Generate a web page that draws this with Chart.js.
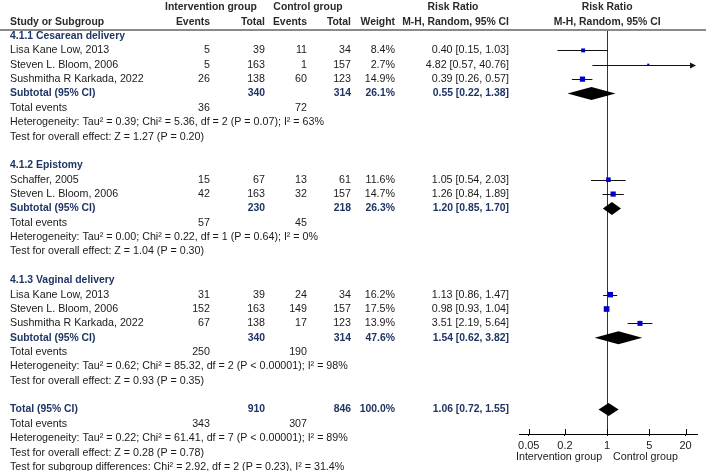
<!DOCTYPE html>
<html>
<head>
<meta charset="utf-8">
<script src="https://cdn.jsdelivr.net/npm/chart.js@4.4.1/dist/chart.umd.min.js"></script>
<style>
  html, body { margin: 0; padding: 0; background: #fff; }
  #wrap { width: 706px; height: 471px; position: relative; }
</style>
</head>
<body>
<div id="wrap"><canvas id="forestChart"></canvas></div>
<script>
// ===== data =====
const subgroupNames = ['4.1.1 Cesarean delivery', '4.1.2 Epistomy', '4.1.3 Vaginal delivery'];

const studyNames = ['Lisa Kane Low, 2013', 'Steven L. Bloom, 2006', 'Sushmitha R Karkada, 2022',
  'Schaffer, 2005', 'Steven L. Bloom, 2006',
  'Lisa Kane Low, 2013', 'Steven L. Bloom, 2006', 'Sushmitha R Karkada, 2022'];
const studyGroup = [0, 0, 0, 1, 1, 2, 2, 2];
const intEvents = [5, 5, 26, 15, 42, 31, 152, 67];
const intTotal = [39, 163, 138, 67, 163, 39, 163, 138];
const ctlEvents = [11, 1, 60, 13, 32, 24, 149, 17];
const ctlTotal = [34, 157, 123, 61, 157, 34, 157, 123];
const weights = [8.4, 2.7, 14.9, 11.6, 14.7, 16.2, 17.5, 13.9];
const rr = [0.40, 4.82, 0.39, 1.05, 1.26, 1.13, 0.98, 3.51];
const rrLow = [0.15, 0.57, 0.26, 0.54, 0.84, 0.86, 0.93, 2.19];
const rrHigh = [1.03, 40.76, 0.57, 2.03, 1.89, 1.47, 1.04, 5.64];

const subIntEvents = [36, 57, 250];
const subIntTotal = [340, 230, 340];
const subCtlEvents = [72, 45, 190];
const subCtlTotal = [314, 218, 314];
const subWeight = [26.1, 26.3, 47.6];
const subRR = [0.55, 1.20, 1.54];
const subLow = [0.22, 0.85, 0.62];
const subHigh = [1.38, 1.70, 3.82];
const subHet = [
  'Heterogeneity: Tau\u00b2 = 0.39; Chi\u00b2 = 5.36, df = 2 (P = 0.07); I\u00b2 = 63%',
  'Heterogeneity: Tau\u00b2 = 0.00; Chi\u00b2 = 0.22, df = 1 (P = 0.64); I\u00b2 = 0%',
  'Heterogeneity: Tau\u00b2 = 0.62; Chi\u00b2 = 85.32, df = 2 (P < 0.00001); I\u00b2 = 98%'
];
const subTest = [
  'Test for overall effect: Z = 1.27 (P = 0.20)',
  'Test for overall effect: Z = 1.04 (P = 0.30)',
  'Test for overall effect: Z = 0.93 (P = 0.35)'
];

const totalIntEvents = 343, totalIntTotal = 910;
const totalCtlEvents = 307, totalCtlTotal = 846;
const totalWeight = 100.0;
const totalRR = [1.06, 0.72, 1.55];
const totalNotes = [
  'Heterogeneity: Tau\u00b2 = 0.22; Chi\u00b2 = 61.41, df = 7 (P < 0.00001); I\u00b2 = 89%',
  'Test for overall effect: Z = 0.28 (P = 0.78)',
  'Test for subgroup differences: Chi\u00b2 = 2.92, df = 2 (P = 0.23), I\u00b2 = 31.4%'
];

const axisTicks = [0.05, 0.2, 1, 5, 20];

// ===== row layout =====
const rows = [];
const studyRow = [];
const subRow = [];
let r = 0;
subgroupNames.forEach((name, g) => {
  rows.push({ kind: 'section', text: name, row: r++ });
  studyGroup.forEach((sg, i) => {
    if (sg === g) { studyRow[i] = r; rows.push({ kind: 'study', idx: i, row: r++ }); }
  });
  subRow[g] = r; rows.push({ kind: 'subtotal', idx: g, row: r++ });
  rows.push({ kind: 'events', a: subIntEvents[g], b: subCtlEvents[g], row: r++ });
  rows.push({ kind: 'note', text: subHet[g], row: r++ });
  rows.push({ kind: 'note', text: subTest[g], row: r++ });
  r++;
});
const totalRow = r;
rows.push({ kind: 'total', row: r++ });
rows.push({ kind: 'events', a: totalIntEvents, b: totalCtlEvents, row: r++ });
totalNotes.forEach(t => rows.push({ kind: 'note', text: t, row: r++ }));

// columns (right edges unless noted)
const COL = { name: 10, ie: 210, it: 265, ce: 307, ct: 351, w: 395, rr: 509 };
const FONT = '10.7px "Liberation Sans", Arial, sans-serif';
const BOLD = 'bold 10.4px "Liberation Sans", Arial, sans-serif';
const NAVY = '#1f3563';
const INK = '#1a1a1a';
const HEAD = '#2a2a2a';

const fmt2 = v => v.toFixed(2);
const ciText = (m, l, h) => `${fmt2(m)} [${fmt2(l)}, ${fmt2(h)}]`;

function txt(ctx, s, x, y, align, font, color) {
  ctx.font = font;
  ctx.fillStyle = color;
  ctx.textAlign = align;
  ctx.textBaseline = 'middle';
  ctx.fillText(s, x, y);
}

// table text + header
const tablePlugin = {
  id: 'table',
  afterDraw(chart) {
    const ctx = chart.ctx;
    const ys = chart.scales.y;
    const xs = chart.scales.x;
    const x1 = xs.getPixelForValue(1);
    ctx.save();
    // header
    txt(ctx, 'Intervention group', 211, 7, 'center', BOLD, HEAD);
    txt(ctx, 'Control group', 308, 7, 'center', BOLD, HEAD);
    txt(ctx, 'Risk Ratio', 453, 7, 'center', BOLD, HEAD);
    txt(ctx, 'Risk Ratio', x1, 7, 'center', BOLD, HEAD);
    txt(ctx, 'Study or Subgroup', COL.name, 22, 'left', BOLD, HEAD);
    txt(ctx, 'Events', COL.ie, 22, 'right', BOLD, HEAD);
    txt(ctx, 'Total', COL.it, 22, 'right', BOLD, HEAD);
    txt(ctx, 'Events', COL.ce, 22, 'right', BOLD, HEAD);
    txt(ctx, 'Total', COL.ct, 22, 'right', BOLD, HEAD);
    txt(ctx, 'Weight', COL.w, 22, 'right', BOLD, HEAD);
    txt(ctx, 'M-H, Random, 95% CI', COL.rr, 22, 'right', BOLD, HEAD);
    txt(ctx, 'M-H, Random, 95% CI', x1, 22, 'center', BOLD, HEAD);
    ctx.fillStyle = '#8a8a8a';
    ctx.fillRect(0, 29, chart.width, 2);

    rows.forEach(row => {
      const y = ys.getPixelForValue(row.row);
      if (row.kind === 'section') {
        txt(ctx, row.text, COL.name, y, 'left', BOLD, NAVY);
      } else if (row.kind === 'study') {
        const i = row.idx;
        txt(ctx, studyNames[i], COL.name, y, 'left', FONT, INK);
        txt(ctx, String(intEvents[i]), COL.ie, y, 'right', FONT, INK);
        txt(ctx, String(intTotal[i]), COL.it, y, 'right', FONT, INK);
        txt(ctx, String(ctlEvents[i]), COL.ce, y, 'right', FONT, INK);
        txt(ctx, String(ctlTotal[i]), COL.ct, y, 'right', FONT, INK);
        txt(ctx, weights[i].toFixed(1) + '%', COL.w, y, 'right', FONT, INK);
        txt(ctx, ciText(rr[i], rrLow[i], rrHigh[i]), COL.rr, y, 'right', FONT, INK);
      } else if (row.kind === 'subtotal') {
        const g = row.idx;
        txt(ctx, 'Subtotal (95% CI)', COL.name, y, 'left', BOLD, NAVY);
        txt(ctx, String(subIntTotal[g]), COL.it, y, 'right', BOLD, NAVY);
        txt(ctx, String(subCtlTotal[g]), COL.ct, y, 'right', BOLD, NAVY);
        txt(ctx, subWeight[g].toFixed(1) + '%', COL.w, y, 'right', BOLD, NAVY);
        txt(ctx, ciText(subRR[g], subLow[g], subHigh[g]), COL.rr, y, 'right', BOLD, NAVY);
      } else if (row.kind === 'total') {
        txt(ctx, 'Total (95% CI)', COL.name, y, 'left', BOLD, NAVY);
        txt(ctx, String(totalIntTotal), COL.it, y, 'right', BOLD, NAVY);
        txt(ctx, String(totalCtlTotal), COL.ct, y, 'right', BOLD, NAVY);
        txt(ctx, totalWeight.toFixed(1) + '%', COL.w, y, 'right', BOLD, NAVY);
        txt(ctx, ciText(totalRR[0], totalRR[1], totalRR[2]), COL.rr, y, 'right', BOLD, NAVY);
      } else if (row.kind === 'events') {
        txt(ctx, 'Total events', COL.name, y, 'left', FONT, INK);
        txt(ctx, String(row.a), COL.ie, y, 'right', FONT, INK);
        txt(ctx, String(row.b), COL.ce, y, 'right', FONT, INK);
      } else if (row.kind === 'note') {
        txt(ctx, row.text, COL.name, y, 'left', FONT, INK);
      }
    });

    // axis side labels
    txt(ctx, 'Intervention group', x1 - 5, 457, 'right', FONT, INK);
    txt(ctx, 'Control group', x1 + 6, 457, 'left', FONT, INK);
    ctx.restore();
  }
};

// whiskers, null line, diamonds
const forestPlugin = {
  id: 'forest',
  beforeDatasetsDraw(chart) {
    const ctx = chart.ctx;
    const xs = chart.scales.x, ys = chart.scales.y;
    const area = chart.chartArea;
    ctx.save();
    // line of no effect
    const x1 = Math.round(xs.getPixelForValue(1)) + 0.5;
    ctx.strokeStyle = '#333';
    ctx.lineWidth = 1;
    ctx.beginPath();
    ctx.moveTo(x1, area.top);
    ctx.lineTo(x1, area.bottom);
    ctx.stroke();
    // upward tick marks on axis
    ctx.strokeStyle = '#000';
    axisTicks.forEach(v => {
      const x = Math.round(xs.getPixelForValue(v)) + 0.5;
      ctx.beginPath();
      ctx.moveTo(x, area.bottom - 5);
      ctx.lineTo(x, area.bottom);
      ctx.stroke();
    });
    // confidence intervals
    ctx.strokeStyle = '#111';
    rr.forEach((m, i) => {
      const y = Math.round(ys.getPixelForValue(studyRow[i])) + 0.5;
      const xa = Math.max(xs.getPixelForValue(rrLow[i]), area.left);
      const clipped = xs.getPixelForValue(rrHigh[i]) > area.right;
      const xb = clipped ? area.right - 1 : xs.getPixelForValue(rrHigh[i]);
      ctx.beginPath();
      ctx.moveTo(xa, y);
      ctx.lineTo(clipped ? xb - 5 : xb, y);
      ctx.stroke();
      if (clipped) {
        ctx.fillStyle = '#111';
        ctx.beginPath();
        ctx.moveTo(xb, y);
        ctx.lineTo(xb - 6, y - 3);
        ctx.lineTo(xb - 6, y + 3);
        ctx.closePath();
        ctx.fill();
      }
    });
    ctx.restore();
  },
  afterDatasetsDraw(chart) {
    const ctx = chart.ctx;
    const xs = chart.scales.x, ys = chart.scales.y;
    const h = 6.5;
    const diamond = (m, l, hi, row) => {
      const y = ys.getPixelForValue(row);
      ctx.beginPath();
      ctx.moveTo(xs.getPixelForValue(l), y);
      ctx.lineTo(xs.getPixelForValue(m), y - h);
      ctx.lineTo(xs.getPixelForValue(hi), y);
      ctx.lineTo(xs.getPixelForValue(m), y + h);
      ctx.closePath();
      ctx.fill();
    };
    ctx.save();
    ctx.fillStyle = '#000';
    subRR.forEach((m, g) => diamond(m, subLow[g], subHigh[g], subRow[g]));
    diamond(totalRR[0], totalRR[1], totalRR[2], totalRow);
    ctx.restore();
  }
};

const squareRadius = weights.map(w => 1.35 * Math.sqrt(w) / Math.SQRT2);

const ctx = document.getElementById('forestChart');
new Chart(ctx, {
  type: 'scatter',
  data: {
    datasets: [{
      label: 'Study',
      data: rr.map((v, i) => ({ x: v, y: studyRow[i] })),
      pointStyle: 'rect',
      pointRadius: squareRadius,
      pointHoverRadius: squareRadius,
      pointBorderWidth: 0,
      backgroundColor: '#0000cc',
      borderColor: '#0000cc'
    }]
  },
  options: {
    responsive: true,
    maintainAspectRatio: false,
    animation: false,
    devicePixelRatio: 1,
    layout: { padding: { left: 519, right: 9, top: 30, bottom: 0 } },
    plugins: { legend: { display: false }, tooltip: { enabled: false } },
    scales: {
      x: {
        type: 'logarithmic',
        min: 0.0345,
        max: 31,
        afterBuildTicks: sc => { sc.ticks = axisTicks.map(v => ({ value: v })); },
        afterFit: sc => { sc.height = 37; },
        grid: { drawOnChartArea: false, drawTicks: true, tickLength: 2, color: '#000' },
        border: { display: true, color: '#000', width: 1 },
        ticks: {
          autoSkip: false, maxRotation: 0, padding: 3, color: INK,
          font: { family: '"Liberation Sans", Arial, sans-serif', size: 11 },
          callback: v => String(v)
        }
      },
      y: {
        type: 'linear',
        reverse: true,
        min: -0.42,
        max: 27.7,
        display: false
      }
    }
  },
  plugins: [forestPlugin, tablePlugin]
});
</script>
</body>
</html>
